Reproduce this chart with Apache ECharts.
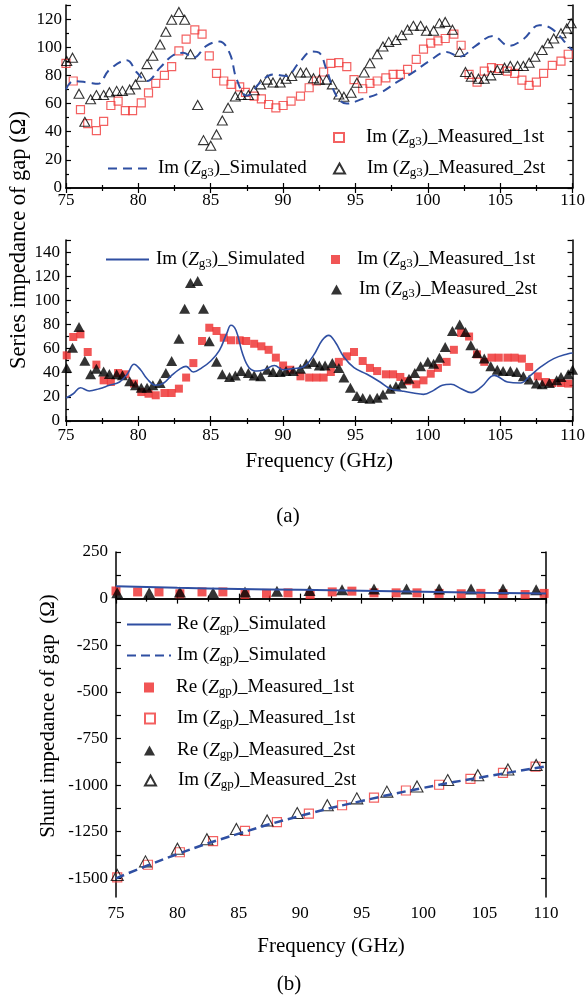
<!DOCTYPE html>
<html>
<head>
<meta charset="utf-8">
<script src="https://cdn.jsdelivr.net/npm/echarts@6/dist/echarts.min.js"></script>
<style>
  html, body { margin: 0; padding: 0; background: #fff; }
  #chart { width: 588px; height: 1000px; }
</style>
</head>
<body>
<div id="chart"></div>
<script>
// ---- panel (a) top : Im(Zg3), open markers ----
const topSimFreq = [75, 75.5, 76.5, 77.2, 78, 79.2, 79.9, 80.6, 81.5, 82.4, 83.1, 83.8, 84.7, 85.6, 86.3, 86.8, 87.5, 88.4, 89.3, 90.2, 91.1, 92.0, 92.5, 93.0, 93.7, 94.4, 95.5, 96.7, 97.8, 98.95, 100.1, 101.3, 102.2, 103.3, 104.5, 105.6, 106.6, 107.7, 108.6, 109.8, 110];
const topSimVal = [70, 76, 75, 74, 84, 90.7, 82, 76, 85.5, 94.3, 96, 92.6, 101, 104, 96, 77, 65.5, 74.8, 80.7, 79.5, 89, 97, 96, 84, 65.2, 60, 63.3, 67.6, 74.8, 82, 90.2, 96.7, 93.3, 101, 108, 101, 105.7, 115.7, 112.9, 99.8, 98];

const topM1Freq = [75.0, 75.5, 76.0, 76.5, 77.1, 77.6, 78.1, 78.6, 79.1, 79.6, 80.2, 80.7, 81.2, 81.8, 82.3, 82.8, 83.3, 83.9, 84.4, 84.9, 85.4, 85.9, 86.4, 87.0, 87.4, 88.0, 88.5, 89.0, 89.5, 90.0, 90.55, 91.2, 91.8, 92.3, 92.8, 93.3, 93.85, 94.4, 94.9, 95.5, 96.0, 96.5, 97.1, 97.6, 98.1, 98.6, 99.2, 99.7, 100.2, 100.7, 101.2, 101.8, 102.3, 102.85, 103.4, 103.9, 104.4, 104.9, 105.5, 106.0, 106.5, 107.0, 107.5, 108.0, 108.6, 109.2, 109.7];
const topM1Val = [88.6, 76, 55.7, 45.7, 40.7, 47.4, 58.6, 61.7, 55, 55, 60.5, 67.6, 74.3, 80, 86.2, 97.4, 105.7, 112.4, 109.3, 93.8, 81.4, 76, 73.6, 71.9, 68, 65.2, 63.3, 59.3, 56.9, 58.6, 61.7, 65.2, 71.2, 76, 82.4, 88.6, 89, 86.2, 77, 70.5, 74.3, 76, 78.3, 80.7, 80.7, 84.3, 91.4, 98.6, 102.9, 104.5, 106.2, 109.3, 101.4, 80.7, 75.2, 83, 85.5, 84.8, 83, 81.4, 76.7, 72.9, 75.2, 81.4, 87.1, 90.2, 95];

const topM2Freq = [75.05, 75.45, 75.9, 76.3, 76.7, 77.1, 77.6, 78.0, 78.5, 78.9, 79.4, 79.8, 80.2, 80.6, 81.0, 81.5, 81.9, 82.3, 82.8, 83.2, 83.6, 84.1, 84.5, 85.0, 85.4, 85.8, 86.2, 86.7, 87.1, 87.6, 88.0, 88.45, 88.9, 89.3, 89.8, 90.2, 90.6, 91.2, 91.6, 92.1, 92.5, 93.0, 93.4, 93.85, 94.2, 94.7, 95.1, 95.6, 96.0, 96.5, 96.9, 97.3, 97.8, 98.2, 98.6, 99.0, 99.5, 99.9, 100.4, 100.8, 101.2, 101.7, 102.2, 102.6, 103.0, 103.5, 103.9, 104.35, 104.8, 105.3, 105.7, 106.2, 106.6, 107.0, 107.4, 107.9, 108.3, 108.7, 109.2, 109.6, 109.9];
const topM2Val = [90.2, 92.6, 67, 47, 63, 66, 66, 68, 69, 69, 70, 73.6, 79, 88, 94, 102, 111, 119.5, 125, 119.5, 95, 59, 34, 30, 38, 48, 57, 65, 66, 66, 69.5, 73.6, 77, 75, 75, 77.6, 79.5, 82, 82, 78, 77, 77, 73.6, 66.4, 64.8, 67.6, 74.8, 82, 88.6, 95, 100.5, 103.8, 105.2, 108.6, 112.4, 115.2, 115.2, 111.7, 111.7, 117, 118, 112.4, 96.7, 82.4, 79, 77.6, 77.6, 80, 83.8, 85.5, 86.7, 86.7, 86.7, 89, 93.3, 98, 102.9, 106.2, 110, 113.3, 117];

// ---- panel (a) bottom : Im(Zg3), filled markers ----
const midSimFreq = [75, 75.5, 76, 76.6, 77.3, 78, 78.7, 79.25, 79.7, 80.15, 80.6, 81.2, 81.75, 82.3, 82.9, 83.3, 83.8, 84.4, 85.0, 85.6, 86.1, 86.4, 86.75, 87.2, 87.65, 88.2, 88.7, 89.4, 90.0, 90.7, 91.4, 92.1, 92.7, 93.15, 93.6, 94.2, 94.9, 95.8, 96.7, 97.4, 98.2, 99.0, 99.7, 100.4, 101.0, 101.6, 102.3, 103.0, 103.7, 104.6, 105.5, 106.4, 107.1, 107.8, 108.7, 109.7, 110];
const midSimVal = [19, 22.6, 27.6, 24.9, 26.8, 29.6, 32.3, 39.2, 47, 42.5, 35, 29.6, 31.5, 37.8, 43.4, 45.3, 40.6, 44.2, 49.7, 58.6, 72.4, 79.3, 75, 55.8, 44.2, 41.4, 42.5, 46, 42.5, 43.5, 44.8, 54.4, 66.9, 71, 65.5, 53, 44.2, 38.7, 32.3, 26.8, 24.9, 23.2, 22.1, 25.4, 29.6, 30.4, 26.8, 23.5, 28.2, 37.8, 32.3, 31.5, 37.8, 44.8, 51.7, 55.8, 56.4];

const midM1Freq = [75.05, 75.5, 76.0, 76.5, 77.1, 77.6, 78.1, 78.6, 79.1, 79.7, 80.2, 80.7, 81.2, 81.8, 82.3, 82.8, 83.3, 83.8, 84.4, 84.9, 85.4, 85.9, 86.4, 87.0, 87.45, 88.0, 88.5, 89.0, 89.5, 90.0, 90.5, 91.2, 91.8, 92.3, 92.8, 93.3, 93.85, 94.4, 94.9, 95.5, 96.0, 96.5, 97.1, 97.6, 98.1, 98.6, 99.2, 99.7, 100.2, 100.7, 101.3, 101.8, 102.3, 102.85, 103.4, 103.9, 104.4, 104.9, 105.5, 106.0, 106.5, 107.0, 107.6, 108.1, 108.6, 109.2, 109.7];
const midM1Val = [54.4, 69.6, 71.8, 57.2, 46.7, 33.7, 32.3, 39.8, 38.7, 31, 24, 22.6, 21.3, 23.2, 23.2, 26.8, 36, 48, 66.3, 77.3, 74.6, 69, 66.9, 66.9, 66.3, 64, 61.9, 59, 52.5, 46, 42.5, 37, 36, 36, 36, 40.6, 49, 53.6, 57.2, 49.7, 44, 41.4, 38.7, 38.7, 36.5, 33, 30.4, 33.7, 39.2, 44, 49, 59, 73, 70, 55.2, 49, 52.5, 52.5, 52.5, 52.5, 51.7, 44.8, 37, 32.3, 31.5, 31.5, 31];

const midM2Freq = [75.05, 75.45, 75.9, 76.3, 76.7, 77.1, 77.6, 78.0, 78.5, 78.9, 79.4, 79.8, 80.2, 80.6, 81.0, 81.5, 81.9, 82.3, 82.8, 83.2, 83.6, 84.1, 84.5, 84.9, 85.4, 85.8, 86.3, 86.7, 87.1, 87.6, 88.0, 88.45, 88.9, 89.3, 89.8, 90.2, 90.7, 91.2, 91.6, 92.1, 92.5, 92.9, 93.4, 93.85, 94.2, 94.65, 95.1, 95.5, 96.0, 96.5, 96.9, 97.4, 97.8, 98.2, 98.7, 99.1, 99.5, 100.0, 100.4, 100.8, 101.2, 101.7, 102.2, 102.6, 102.97, 103.4, 103.9, 104.35, 104.8, 105.2, 105.7, 106.15, 106.6, 107.0, 107.5, 107.9, 108.4, 108.9, 109.2, 109.7, 110];
const midM2Val = [44, 60.8, 78, 50, 38.7, 43.4, 41, 39, 38.7, 38, 33, 29.6, 27.6, 27.6, 29.6, 31.5, 39.8, 49.7, 68.2, 93, 114.4, 116, 93, 66, 49, 38.7, 36.5, 37.8, 41.4, 39.8, 37.8, 37, 42.5, 40.6, 40.6, 41.4, 41.4, 43.4, 47.5, 48.9, 46, 46, 48, 44, 36, 27.6, 20.7, 19, 18.5, 19.3, 22, 26.8, 28.7, 31, 35, 39.8, 45.3, 49, 47.5, 52.5, 61.3, 74.6, 80, 73.8, 62.7, 56.4, 51.7, 45.3, 42.5, 41.4, 41.4, 40.6, 37, 34.3, 31, 30.4, 31.5, 33.7, 36.5, 38.7, 42.5];

// ---- panel (b) : Zgp ----
const bSimFreq = [75, 80, 85, 90, 95, 100, 105, 110];
const bReSim = [66, 58, 52, 47, 42, 37, 32, 28];
const bImSim = [-1500, -1370, -1260, -1165, -1085, -1015, -955, -900];

const bReM1Freq = [75.0, 76.76, 78.5, 80.2, 82.0, 83.7, 85.5, 87.25, 89.0, 90.8, 92.6, 94.2, 96.0, 97.8, 99.5, 101.3, 103.1, 104.7, 106.5, 108.3, 109.85];
const bReM1 = [41, 36, 36, 26, 36, 36, 22, 28, 31, 22, 36, 40, 31, 31, 31, 28, 26, 28, 26, 22, 28];
const bImM1Freq = [75.1, 77.6, 80.2, 82.9, 85.5, 88.1, 90.7, 93.4, 96.0, 98.6, 101.3, 103.85, 106.5, 109.15];
const bImM1 = [-1495, -1427, -1360, -1300, -1245, -1199, -1153, -1108, -1067, -1029, -998, -967, -934, -901];

const bReM2Freq = [75.1, 77.7, 80.2, 82.9, 85.5, 88.1, 90.75, 93.4, 96.0, 98.65, 101.3, 103.9, 106.5, 109.2];
const bReM2 = [31, 31, 35, 31, 36, 40, 43, 47, 52, 52, 52, 52, 52, 47];
const bImM2Freq = [75.1, 77.4, 80.0, 82.4, 84.8, 87.3, 89.75, 92.2, 94.6, 97.05, 99.5, 102.0, 104.45, 106.9, 109.2];
const bImM2 = [-1482, -1409, -1341, -1290, -1235, -1190, -1150, -1108, -1071, -1035, -1007, -973, -947, -916, -892];

const FONT = 'Liberation Serif';
const BLUE = '#2f4fa2';
const RED = '#ee2a2a';

const zip = (xs, ys) => xs.map((x, i) => [x, ys[i]]);

const labels = {
  tSim: ['Im (', 'Z', 'g3', ')_Simulated'],
  tM1: ['Im (', 'Z', 'g3', ')_Measured_1st'],
  tM2: ['Im (', 'Z', 'g3', ')_Measured_2st'],
  mSim: ['Im (', 'Z', 'g3', ')_Simulated'],
  mM1: ['Im (', 'Z', 'g3', ')_Measured_1st'],
  mM2: ['Im (', 'Z', 'g3', ')_Measured_2st'],
  bReSim: ['Re (', 'Z', 'gp', ')_Simulated'],
  bImSim: ['Im (', 'Z', 'gp', ')_Simulated'],
  bReM1: ['Re (', 'Z', 'gp', ')_Measured_1st'],
  bImM1: ['Im (', 'Z', 'gp', ')_Measured_1st'],
  bReM2: ['Re (', 'Z', 'gp', ')_Measured_2st'],
  bImM2: ['Im (', 'Z', 'gp', ')_Measured_2st'],
};

// one legend per entry so each sits where the reference puts it
function leg(name, left, centerY, iw, ih, gap, isLine) {
  const t = labels[name];
  return {
    // line entries: hide the dot ECharts puts on the line icon
    data: [isLine ? { name: name, itemStyle: { opacity: 0 } } : name],
    left: left,
    top: centerY - 8,
    padding: 0,
    itemWidth: iw,
    itemHeight: ih,
    selectedMode: false,
    formatter: () => '{g| }{n|' + t[0] + '}{z|' + t[1] + '}{s|' + t[2] + '}{n|' + t[3] + '}',
    textStyle: {
      fontFamily: FONT, fontSize: 19, color: '#000',
      rich: {
        g: { width: gap, fontSize: 19, fontFamily: FONT },
        n: { fontSize: 19, fontFamily: FONT, color: '#000' },
        z: { fontSize: 19, fontFamily: FONT, fontStyle: 'italic', color: '#000' },
        s: { fontSize: 13, fontFamily: FONT, color: '#000', padding: [9, 0, 0, 0] },
      },
    },
  };
}

const axisLine = { show: true, lineStyle: { color: '#000', width: 1.5 } };
const tick = { show: true, inside: true, length: 5, lineStyle: { color: '#000', width: 1.2 } };
const minor = { show: true, splitNumber: 2, length: 3, lineStyle: { color: '#000', width: 1.2 } };
const lab = (margin) => ({ margin: margin, fontFamily: FONT, fontSize: 17, color: '#000', formatter: (v) => String(v) });

function xPair(gi, margin, name, nameGap) {
  const base = { gridIndex: gi, type: 'value', min: 75, max: 110, interval: 5, axisLine, axisTick: tick, minorTick: minor, splitLine: { show: false } };
  return [
    Object.assign({}, base, {
      position: 'bottom', axisLabel: lab(margin),
      name: name, nameLocation: 'middle', nameGap: nameGap,
      nameTextStyle: { fontFamily: FONT, fontSize: 21, color: '#000' },
    }),
    Object.assign({}, base, { position: 'top', axisLabel: { show: false } }),
  ];
}

function yPair(gi, opt, margin) {
  const base = Object.assign({ gridIndex: gi, type: 'value', axisLine, axisTick: tick, minorTick: minor, splitLine: { show: false } }, opt);
  return [
    Object.assign({}, base, { position: 'left', axisLabel: Object.assign(lab(margin), { showMaxLabel: false }) }),
    Object.assign({}, base, { position: 'right', axisLabel: { show: false } }),
  ];
}

const bTicks = [];
for (let v = -1500; v <= 250; v += 125) bTicks.push(v);
const bLabels = bTicks.filter((v) => v % 250 === 0);

const chart = echarts.init(document.getElementById('chart'), null, { renderer: 'canvas' });

const option = {
  animation: false,
  backgroundColor: '#fff',
  grid: [
    { left: 66, top: 5, width: 507, height: 183 },
    { left: 66, top: 240, width: 507, height: 181 },
    { left: 116, top: 552, width: 430, height: 345 },
  ],
  xAxis: [
    ...xPair(0, 4, '', 0),
    ...xPair(1, 6, 'Frequency (GHz)', 30),
    ...xPair(2, 8, 'Frequency (GHz)', 39),
  ],
  yAxis: [
    ...yPair(0, { min: 0, max: 130, interval: 20 }, 4),
    ...yPair(1, { min: 0, max: 150, interval: 20 }, 6),
    {
      gridIndex: 2, type: 'value', min: -1600, max: 250, position: 'left', axisLine,
      axisTick: Object.assign({}, tick, { customValues: bTicks }),
      axisLabel: Object.assign(lab(8), { customValues: bLabels }),
      splitLine: { show: false },
    },
    {
      gridIndex: 2, type: 'value', min: -1600, max: 250, position: 'right', axisLine,
      axisTick: Object.assign({}, tick, { customValues: bTicks }),
      axisLabel: { show: false },
      splitLine: { show: false },
    },
  ],
  legend: [
    leg('tM1', 333, 136, 10, 9, 17),
    leg('tSim', 107, 167, 40, 10, 5, true),
    leg('tM2', 333, 167, 11, 10, 17),
    leg('mSim', 105, 258, 43, 10, 2, true),
    leg('mM1', 331, 258, 9, 9, 12),
    leg('mM2', 331, 288, 11, 10, 12),
    leg('bReSim', 126, 623, 44, 10, 1, true),
    leg('bImSim', 126, 654, 44, 10, 1, true),
    leg('bReM1', 144, 686, 10, 10, 17),
    leg('bImM1', 144, 717, 10, 10, 17),
    leg('bReM2', 144, 749, 11, 10, 17),
    leg('bImM2', 144, 779, 11, 10, 17),
  ],
  series: [
    { name: 'tSim', type: 'line', xAxisIndex: 0, yAxisIndex: 0, data: zip(topSimFreq, topSimVal), smooth: 0.4, symbol: 'none', lineStyle: { color: BLUE, width: 2, type: [9, 6] }, itemStyle: { color: BLUE } },
    { name: 'tM1', type: 'scatter', xAxisIndex: 0, yAxisIndex: 0, data: zip(topM1Freq, topM1Val), symbol: 'rect', symbolSize: 8, itemStyle: { color: 'rgba(0,0,0,0)', borderColor: '#f03a3a', borderWidth: 1.2 } },
    { name: 'tM2', type: 'scatter', xAxisIndex: 0, yAxisIndex: 0, data: zip(topM2Freq, topM2Val), symbol: 'triangle', symbolSize: [10, 9], itemStyle: { color: 'rgba(0,0,0,0)', borderColor: '#000', borderWidth: 1.1 } },

    { name: 'mSim', type: 'line', xAxisIndex: 2, yAxisIndex: 2, data: zip(midSimFreq, midSimVal), smooth: 0.4, symbol: 'none', lineStyle: { color: BLUE, width: 1.6 }, itemStyle: { color: BLUE } },
    { name: 'mM1', type: 'scatter', xAxisIndex: 2, yAxisIndex: 2, data: zip(midM1Freq, midM1Val), symbol: 'rect', symbolSize: 8, itemStyle: { color: RED } },
    { name: 'mM2', type: 'scatter', xAxisIndex: 2, yAxisIndex: 2, data: zip(midM2Freq, midM2Val), symbol: 'triangle', symbolSize: [11, 10], itemStyle: { color: '#000' } },

    { name: 'bReSim', type: 'line', xAxisIndex: 4, yAxisIndex: 4, data: zip(bSimFreq, bReSim), smooth: true, symbol: 'none', lineStyle: { color: BLUE, width: 2 }, itemStyle: { color: BLUE } },
    { name: 'bImSim', type: 'line', xAxisIndex: 4, yAxisIndex: 4, data: zip(bSimFreq, bImSim), smooth: true, symbol: 'none', lineStyle: { color: BLUE, width: 2.5, type: [9, 5] }, itemStyle: { color: BLUE } },
    { name: 'bReM1', type: 'scatter', xAxisIndex: 4, yAxisIndex: 4, data: zip(bReM1Freq, bReM1), symbol: 'rect', symbolSize: 9, itemStyle: { color: RED } },
    { name: 'bImM1', type: 'scatter', xAxisIndex: 4, yAxisIndex: 4, data: zip(bImM1Freq, bImM1), symbol: 'rect', symbolSize: 9, itemStyle: { color: 'rgba(0,0,0,0)', borderColor: '#f03a3a', borderWidth: 1.2 } },
    { name: 'bReM2', type: 'scatter', xAxisIndex: 4, yAxisIndex: 4, data: zip(bReM2Freq, bReM2), symbol: 'triangle', symbolSize: [12, 11], itemStyle: { color: '#000' } },
    { name: 'bImM2', type: 'scatter', xAxisIndex: 4, yAxisIndex: 4, data: zip(bImM2Freq, bImM2), symbol: 'triangle', symbolSize: [12, 11], itemStyle: { color: 'rgba(0,0,0,0)', borderColor: '#000', borderWidth: 1.1 } },
  ],
  graphic: [
    { type: 'text', x: 19, y: 240, rotation: Math.PI / 2, style: { text: 'Series impedance of gap (Ω)', font: '22.5px "Liberation Serif"', fill: '#000', textAlign: 'center', textVerticalAlign: 'middle' } },
    { type: 'text', x: 48, y: 716, rotation: Math.PI / 2, style: { text: 'Shunt impedance of gap  (Ω)', font: '21px "Liberation Serif"', fill: '#000', textAlign: 'center', textVerticalAlign: 'middle' } },
    { type: 'text', x: 288, y: 516, style: { text: '(a)', font: '21px "Liberation Serif"', fill: '#000', textAlign: 'center', textVerticalAlign: 'middle' } },
    { type: 'text', x: 289, y: 984, style: { text: '(b)', font: '21px "Liberation Serif"', fill: '#000', textAlign: 'center', textVerticalAlign: 'middle' } },
  ],
};

chart.setOption(option);
</script>
</body>
</html>
